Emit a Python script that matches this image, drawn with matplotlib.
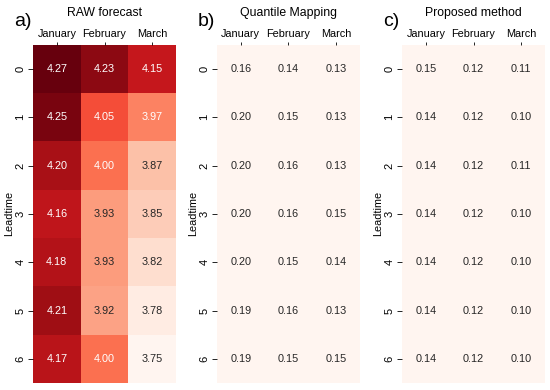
import numpy as np
import matplotlib
matplotlib.use('Agg')
import matplotlib.pyplot as plt
import seaborn as sns

months = ['January', 'February', 'March']
leadtimes = [0, 1, 2, 3, 4, 5, 6]

raw = np.array([
    [4.27, 4.23, 4.15],
    [4.25, 4.05, 3.97],
    [4.20, 4.00, 3.87],
    [4.16, 3.93, 3.85],
    [4.18, 3.93, 3.82],
    [4.21, 3.92, 3.78],
    [4.17, 4.00, 3.75],
])
qm = np.array([
    [0.16, 0.14, 0.13],
    [0.20, 0.15, 0.13],
    [0.20, 0.16, 0.13],
    [0.20, 0.16, 0.15],
    [0.20, 0.15, 0.14],
    [0.19, 0.16, 0.13],
    [0.19, 0.15, 0.15],
])
proposed = np.array([
    [0.15, 0.12, 0.11],
    [0.14, 0.12, 0.10],
    [0.14, 0.12, 0.11],
    [0.14, 0.12, 0.10],
    [0.14, 0.12, 0.10],
    [0.14, 0.12, 0.10],
    [0.14, 0.12, 0.10],
])

titles = ['RAW forecast', 'Quantile Mapping', 'Proposed method']
panel_tags = ['a)', 'b)', 'c)']
datasets = [raw, qm, proposed]

plt.rcParams['font.family'] = ['Liberation Sans', 'DejaVu Sans']

fig = plt.figure(figsize=(5.5, 3.9), dpi=100)
lefts = [0.06, 0.3945, 0.731]
vmin, vmax = raw.min(), raw.max()

for left, data, title, tag in zip(lefts, datasets, titles, panel_tags):
    ax = fig.add_axes([left, 0.018, 0.26, 0.867])
    sns.heatmap(data, ax=ax, cmap='Reds', vmin=vmin, vmax=vmax, cbar=False,
                annot=True, fmt='.2f', annot_kws={'fontsize': 7.8},
                xticklabels=months, yticklabels=leadtimes)
    ax.xaxis.tick_top()
    ax.tick_params(axis='x', labelsize=7.8, length=2.5, width=0.6, pad=2)
    ax.tick_params(axis='y', labelsize=8, length=3.5, width=0.6, pad=2)
    plt.setp(ax.get_yticklabels(), rotation=90, va='center')
    ax.set_ylabel('Leadtime', fontsize=7.8, labelpad=1)
    ax.set_title(title, fontsize=8.8, pad=21)
    ax.text(-0.135, 1.068, tag, transform=ax.transAxes, fontsize=14,
            ha='left', va='center')

fig.savefig('out.png', dpi=100, facecolor='white')
